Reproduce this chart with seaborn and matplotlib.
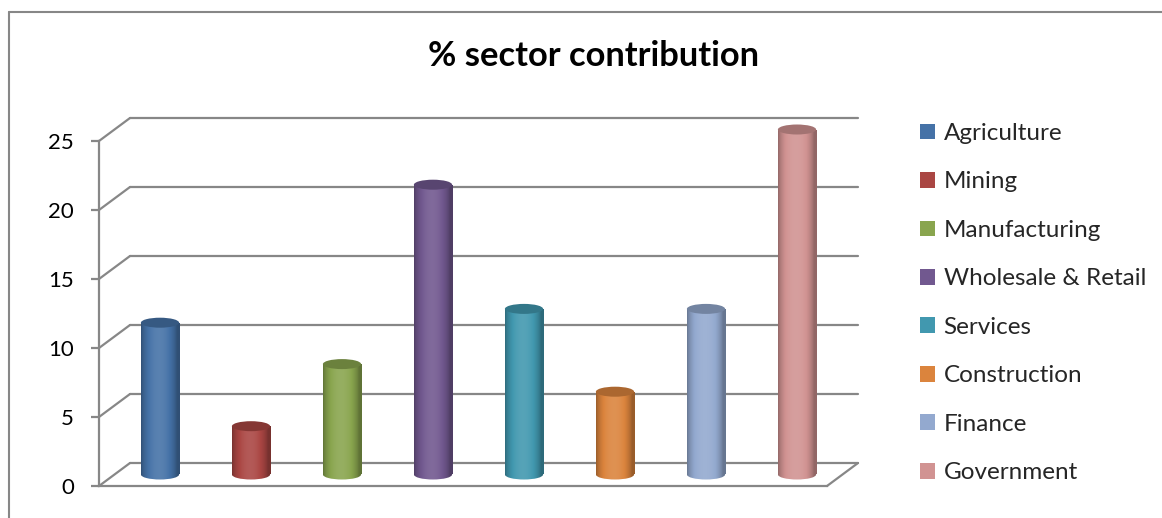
import numpy as np
import pandas as pd
import matplotlib
matplotlib.use("Agg")
import matplotlib.pyplot as plt
import seaborn as sns
from matplotlib.patches import Ellipse, Rectangle, ConnectionPatch
from matplotlib.lines import Line2D
import matplotlib.colors as mcolors

# ---------------- data ----------------
sectors = ["Agriculture", "Mining", "Manufacturing", "Wholesale & Retail",
           "Services", "Construction", "Finance", "Government"]
values = [11, 3.5, 8, 21, 12, 6, 12, 25]
colors = ["#4572A7", "#AA4643", "#89A54E", "#71588F",
          "#4198AF", "#DB843D", "#93A9CF", "#D19392"]
yticks = [0, 5, 10, 15, 20, 25]
title = "% sector contribution"

# ---------------- style ----------------
sns.set_theme(style="white")
plt.rcParams["font.family"] = ["Lato", "DejaVu Sans"]

W, H = 1162, 518
fig = plt.figure(figsize=(W / 100, H / 100), dpi=100)
fig.patch.set_facecolor("white")
gc = "#878787"
glw = 1.6


def px_axes(left, bottom_y, width, height):
    return fig.add_axes([left / W, (H - bottom_y) / H, width / W, height / H])


depth_dx, depth_dy = 31, 23
plane_w, plane_h = 728, 345
front_left, front_bottom = 99, 486
ymax = yticks[-1]

back = px_axes(front_left + depth_dx, front_bottom - depth_dy, plane_w, plane_h)
front = px_axes(front_left, front_bottom, plane_w, plane_h)
mid = px_axes(front_left + depth_dx / 2, front_bottom - depth_dy / 2, plane_w, plane_h)

# back wall gridlines
back.set_xlim(0, 1)
back.set_ylim(0, ymax)
for v in yticks:
    back.axhline(v, color=gc, lw=glw, clip_on=False)
back.axis("off")

# front axis
front.set_facecolor("none")
front.set_ylim(0, ymax)
front.set_xlim(0, 1)
front.set_yticks(yticks)
front.set_yticklabels([str(t) for t in yticks])
front.set_xticks([])
for s in ["top", "right"]:
    front.spines[s].set_visible(False)
for s in ["left", "bottom"]:
    front.spines[s].set_color(gc)
    front.spines[s].set_linewidth(glw)
front.tick_params(axis="y", left=True, length=6, width=glw, color=gc,
                  pad=12, labelsize=16, labelcolor="black")

# side wall / floor diagonals
for v in yticks:
    cp = ConnectionPatch(xyA=(0, v), coordsA=front.get_yaxis_transform(),
                         xyB=(0, v), coordsB=back.get_yaxis_transform(),
                         color=gc, lw=glw)
    fig.add_artist(cp)
cp = ConnectionPatch(xyA=(1, 0), coordsA=front.transAxes,
                     xyB=(1, 0), coordsB=back.transAxes, color=gc, lw=glw)
fig.add_artist(cp)

# ---------------- bars ----------------
df = pd.DataFrame({"sector": sectors, "value": values})
sns.barplot(data=df, x="sector", y="value", hue="sector", palette=colors,
            dodge=False, width=0.42, ax=mid, legend=False, saturation=1)
mid.set_facecolor("none")
mid.set_xlim(-0.5, len(sectors) - 0.5)
mid.set_ylim(0, ymax)

ppu = plane_h / ymax
ell_h = 10 / ppu


def shade_colors(base, n=80):
    base = np.array(mcolors.to_rgb(base))
    t = np.linspace(0, 1, n)
    s = 0.70 + 0.42 * np.sin(np.pi * np.clip(t * 1.08, 0, 1)) ** 0.7
    out = []
    for f in s:
        if f >= 1:
            c = base + (1 - base) * (f - 1) * 0.9
        else:
            c = base * f
        out.append(np.clip(c, 0, 1))
    return np.array(out)[None, :, :]


handles = []
for patch in list(mid.patches):
    x0 = patch.get_x()
    w = patch.get_width()
    h = patch.get_height()
    fc = patch.get_facecolor()
    patch.set_visible(False)
    handles.append(Rectangle((0, 0), 1, 1, facecolor=fc, edgecolor="none"))
    img = shade_colors(fc)
    ext = (x0, x0 + w, -ell_h, h)
    im1 = mid.imshow(img, extent=ext, aspect="auto", origin="lower",
                     zorder=3, interpolation="bilinear")
    im1.set_clip_path(Rectangle((x0, 0), w, h, transform=mid.transData))
    im2 = mid.imshow(img, extent=ext, aspect="auto", origin="lower",
                     zorder=3, interpolation="bilinear")
    im2.set_clip_box(fig.bbox)
    im2.set_clip_path(Ellipse((x0 + w / 2, 0), w, ell_h, transform=mid.transData))
    top_c = np.array(mcolors.to_rgb(fc)) * 0.78
    mid.add_patch(Ellipse((x0 + w / 2, h), w, ell_h, facecolor=top_c,
                          edgecolor="none", zorder=4, clip_on=False))

mid.set_xlim(-0.5, len(sectors) - 0.5)
mid.set_ylim(0, ymax)
mid.axis("off")

# ---------------- legend / title / border ----------------
fig.legend(handles, sectors, loc="upper left",
           bbox_to_anchor=(920 / W, 1 - 123 / H), frameon=False,
           fontsize=17.5, handlelength=0.62, handleheight=0.62,
           handletextpad=0.35, labelspacing=1.13, borderaxespad=0, borderpad=0)

fig.text(593 / W, 1 - 56 / H, title, ha="center", va="center",
         fontsize=24.8, fontweight="bold", color="black")

fig.add_artist(Line2D([9 / W, 9 / W], [0, 1 - 12 / H], transform=fig.transFigure,
                      color=gc, lw=1.5))
fig.add_artist(Line2D([9 / W, 1], [1 - 12 / H, 1 - 12 / H], transform=fig.transFigure,
                      color=gc, lw=1.5))

fig.savefig("out.png", dpi=100)
